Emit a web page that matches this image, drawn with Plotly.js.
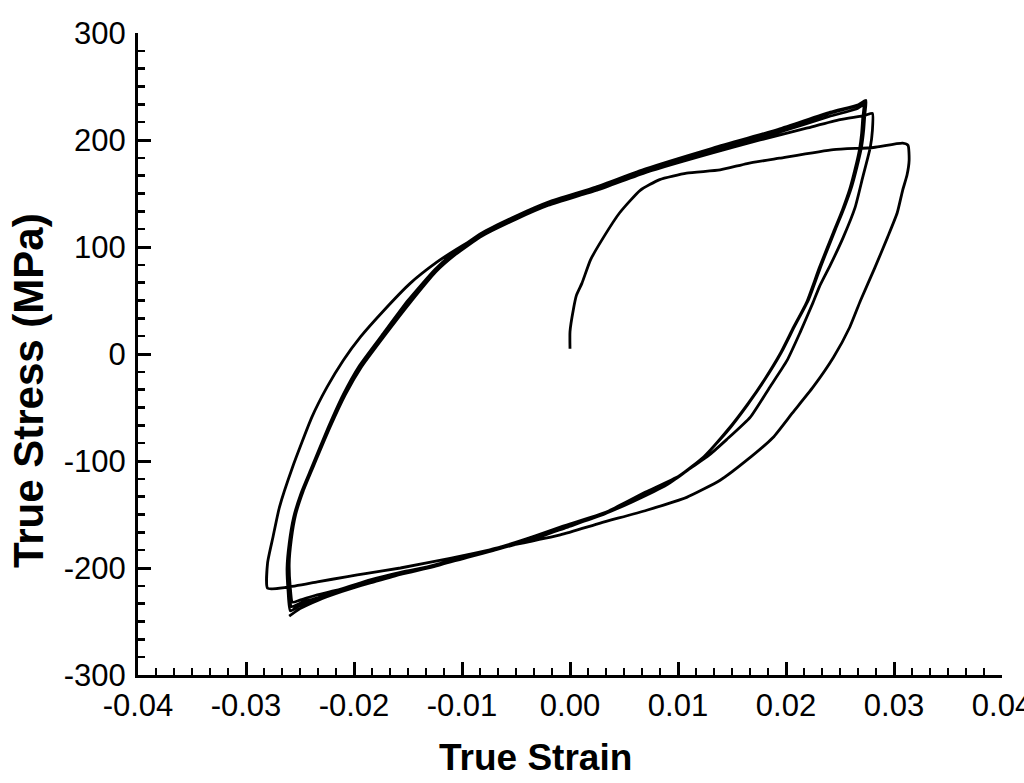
<!DOCTYPE html>
<html>
<head>
<meta charset="utf-8">
<script src="https://cdn.plot.ly/plotly-3.0.1.min.js"></script>
<style>
  html, body { margin: 0; padding: 0; background: #fff; }
  #chart { width: 1024px; height: 783px; }
</style>
</head>
<body>
<div id="chart"></div>
<script>
// Tick labels (hyphen minus as in the original figure)
const strainTicks = [-0.04, -0.03, -0.02, -0.01, 0, 0.01, 0.02, 0.03, 0.04];
const strainTickText = ['-0.04', '-0.03', '-0.02', '-0.01', '0.00', '0.01', '0.02', '0.03', '0.04'];
const stressTicks = [-300, -200, -100, 0, 100, 200, 300];
const stressTickText = ['-300', '-200', '-100', '0', '100', '200', '300'];

// Initial tensile loading
const initStrain = [0, 0, 0.0003, 0.0006, 0.0011, 0.0019, 0.0031, 0.0046, 0.0065, 0.0083, 0.0108, 0.0139, 0.0164, 0.0194, 0.0244, 0.0281, 0.0308, 0.0313];
const initStress = [5, 21, 41, 55, 66, 88, 109, 132, 153, 163, 169, 172, 178, 183, 191, 193, 197, 195];

// Cycle 1 reversal into compression
const unload1Strain = [0.0314, 0.0312, 0.0308, 0.0303, 0.0294, 0.0282, 0.0269, 0.0259, 0.0244, 0.0225, 0.0206, 0.0188, 0.0164, 0.0139, 0.0108, 0.0071, 0.0028, -0.0009, -0.0065, -0.0111, -0.0157, -0.0188, -0.0206, -0.0234, -0.0262, -0.0280];
const unload1Stress = [181, 167, 153, 132, 109, 80, 50, 25, -3, -31, -55, -78, -99, -118, -134, -146, -158, -169, -181, -191, -200, -205, -208, -213, -218, -219];

// Cycle 2
const reload2Strain = [-0.0280, -0.0275, -0.0269, -0.0257, -0.0239, -0.0225, -0.0210, -0.0194, -0.0173, -0.0148, -0.0123, -0.0105, -0.0081, -0.0049, -0.0019, 0.0025, 0.0071, 0.0132, 0.0176, 0.0219, 0.0250, 0.0273, 0.0280];
const reload2Stress = [-195, -171, -143, -106, -59, -31, -6, 16, 40, 66, 86, 98, 112, 127, 140, 153, 170, 188, 200, 211, 219, 223, 225];
const unload2Strain = [0.0280, 0.0278, 0.0271, 0.0264, 0.0253, 0.0241, 0.0231, 0.0225, 0.0213, 0.0201, 0.0185, 0.0167, 0.0145, 0.0127, 0.0111, 0.0090, 0.0058, 0.0028, -0.0003, -0.0034, -0.0065, -0.0095, -0.0127, -0.0157, -0.0185, -0.0213, -0.0234, -0.0250, -0.0257];
const unload2Stress = [209, 193, 165, 137, 109, 83, 63, 48, 20, -6, -31, -59, -80, -96, -107, -122, -138, -151, -162, -173, -182, -190, -198, -204, -211, -220, -225, -230, -232];

// Cycle 3
const reload3Strain = [-0.0259, -0.0260, -0.0258, -0.0254, -0.0247, -0.0238, -0.0222, -0.0208, -0.0193, -0.0171, -0.0148, -0.0124, -0.0106, -0.0082, -0.0050, -0.0020, 0.0024, 0.0070, 0.0131, 0.0193, 0.0240, 0.0265, 0.0272];
const reload3Stress = [-218, -196, -173, -150, -128, -106, -68, -38, -12, 18, 48, 77, 93, 110, 126, 139, 153, 170, 189, 207, 222, 229, 233];
const unload3Strain = [0.0271, 0.0270, 0.0268, 0.0264, 0.0259, 0.0252, 0.0244, 0.0231, 0.0219, 0.0206, 0.0194, 0.0179, 0.0164, 0.0145, 0.0123, 0.0099, 0.0068, 0.0031, -0.0009, -0.0034, -0.0065, -0.0095, -0.0127, -0.0157, -0.0185, -0.0213, -0.0234, -0.0250, -0.0258];
const unload3Stress = [220, 206, 191, 173, 154, 134, 114, 81, 48, 23, -1, -26, -48, -73, -97, -116, -131, -150, -163, -172, -182, -190, -199, -206, -214, -222, -228, -233, -236];

// Cycle 4
const reload4Strain = [-0.0260, -0.0261, -0.0259, -0.0255, -0.0248, -0.0239, -0.0223, -0.0209, -0.0194, -0.0172, -0.0149, -0.0124, -0.0105, -0.0081, -0.0049, -0.0019, 0.0025, 0.0071, 0.0132, 0.0194, 0.0241, 0.0266, 0.0273];
const reload4Stress = [-220, -198, -175, -152, -129, -107, -68, -37, -11, 19, 49, 78, 95, 112, 128, 141, 155, 172, 191, 209, 225, 232, 236];
const unload4Strain = [0.0272, 0.0271, 0.0269, 0.0265, 0.0260, 0.0253, 0.0245, 0.0232, 0.0220, 0.0207, 0.0195, 0.0180, 0.0165, 0.0146, 0.0124, 0.0100, 0.0069, 0.0032, -0.0008, -0.0033, -0.0064, -0.0094, -0.0126, -0.0156, -0.0184, -0.0212, -0.0234, -0.0250, -0.0259];
const unload4Stress = [223, 209, 193, 175, 156, 136, 116, 83, 50, 25, 1, -24, -46, -71, -96, -115, -130, -149, -162, -171, -181, -189, -198, -205, -213, -222, -229, -235, -240];

// Cycle 5
const reload5Strain = [-0.0261, -0.0262, -0.0260, -0.0256, -0.0249, -0.0240, -0.0224, -0.0210, -0.0195, -0.0173, -0.0150, -0.0125, -0.0106, -0.0082, -0.0050, -0.0020, 0.0024, 0.0070, 0.0131, 0.0193, 0.0241, 0.0267, 0.0274];
const reload5Stress = [-222, -200, -177, -153, -130, -108, -69, -38, -11, 19, 50, 79, 96, 113, 129, 142, 156, 173, 192, 210, 226, 233, 237];
const unload5Strain = [0.0273, 0.0272, 0.0270, 0.0266, 0.0261, 0.0254, 0.0246, 0.0233, 0.0221, 0.0208, 0.0196, 0.0181, 0.0166, 0.0147, 0.0125, 0.0101, 0.0070, 0.0033, -0.0007, -0.0032, -0.0063, -0.0093, -0.0125, -0.0155, -0.0183, -0.0211, -0.0233, -0.0250, -0.0260];
const unload5Stress = [224, 210, 194, 176, 157, 137, 117, 84, 51, 26, 2, -23, -45, -70, -95, -114, -129, -148, -161, -170, -180, -188, -197, -205, -213, -222, -230, -238, -245];

const strain = [].concat(initStrain, unload1Strain, reload2Strain, unload2Strain,
    reload3Strain, unload3Strain, reload4Strain, unload4Strain, reload5Strain, unload5Strain);
const stress = [].concat(initStress, unload1Stress, reload2Stress, unload2Stress,
    reload3Stress, unload3Stress, reload4Stress, unload4Stress, reload5Stress, unload5Stress);

const tickFont = { family: '"Liberation Sans", Arial, sans-serif', size: 31, color: '#000' };
const titleFont = { family: '"Liberation Sans", Arial, sans-serif', color: '#000', weight: 'bold' };

const traces = [{
    x: strain,
    y: stress,
    mode: 'lines',
    line: { color: '#000', width: 2.8, shape: 'spline', smoothing: 0.5 },
    hoverinfo: 'skip'
}];

const layout = {
    width: 1024,
    height: 783,
    margin: { l: 138, r: 22, t: 33, b: 108 },
    paper_bgcolor: '#fff',
    plot_bgcolor: '#fff',
    showlegend: false,
    xaxis: {
        range: [-0.04, 0.04],
        tickmode: 'array',
        tickvals: strainTicks,
        ticktext: strainTickText,
        ticks: 'inside',
        ticklen: 13,
        tickwidth: 3,
        tickcolor: '#000',
        showline: true,
        linecolor: '#000',
        linewidth: 3,
        showgrid: false,
        zeroline: false,
        tickfont: tickFont,
        ticklabelstandoff: 1,
        ticklabeloverflow: 'allow',
        minor: { tickmode: 'linear', tick0: -0.04, dtick: 0.01 / 6, ticks: 'inside', ticklen: 7, tickwidth: 2.5, tickcolor: '#000', showgrid: false }
    },
    yaxis: {
        range: [-300, 300],
        tickmode: 'array',
        tickvals: stressTicks,
        ticktext: stressTickText,
        ticks: 'inside',
        ticklen: 13,
        tickwidth: 3,
        tickcolor: '#000',
        showline: true,
        linecolor: '#000',
        linewidth: 3,
        showgrid: false,
        zeroline: false,
        tickfont: tickFont,
        ticklabelstandoff: 3,
        ticklabeloverflow: 'allow',
        minor: { tickmode: 'linear', tick0: -300, dtick: 100 / 6, ticks: 'inside', ticklen: 7, tickwidth: 2.5, tickcolor: '#000', showgrid: false }
    },
    annotations: [
        {
            text: 'True Strain', xref: 'paper', yref: 'paper',
            x: 0.4595, y: -0.128, xanchor: 'center', yanchor: 'middle',
            showarrow: false, font: Object.assign({ size: 37 }, titleFont)
        },
        {
            text: 'True Stress (MPa)', xref: 'paper', yref: 'paper',
            x: -0.126, y: 0.4424, xanchor: 'center', yanchor: 'middle', textangle: -90,
            showarrow: false, font: Object.assign({ size: 42 }, titleFont)
        }
    ]
};

Plotly.newPlot('chart', traces, layout, { displayModeBar: false, staticPlot: true });
</script>
</body>
</html>
